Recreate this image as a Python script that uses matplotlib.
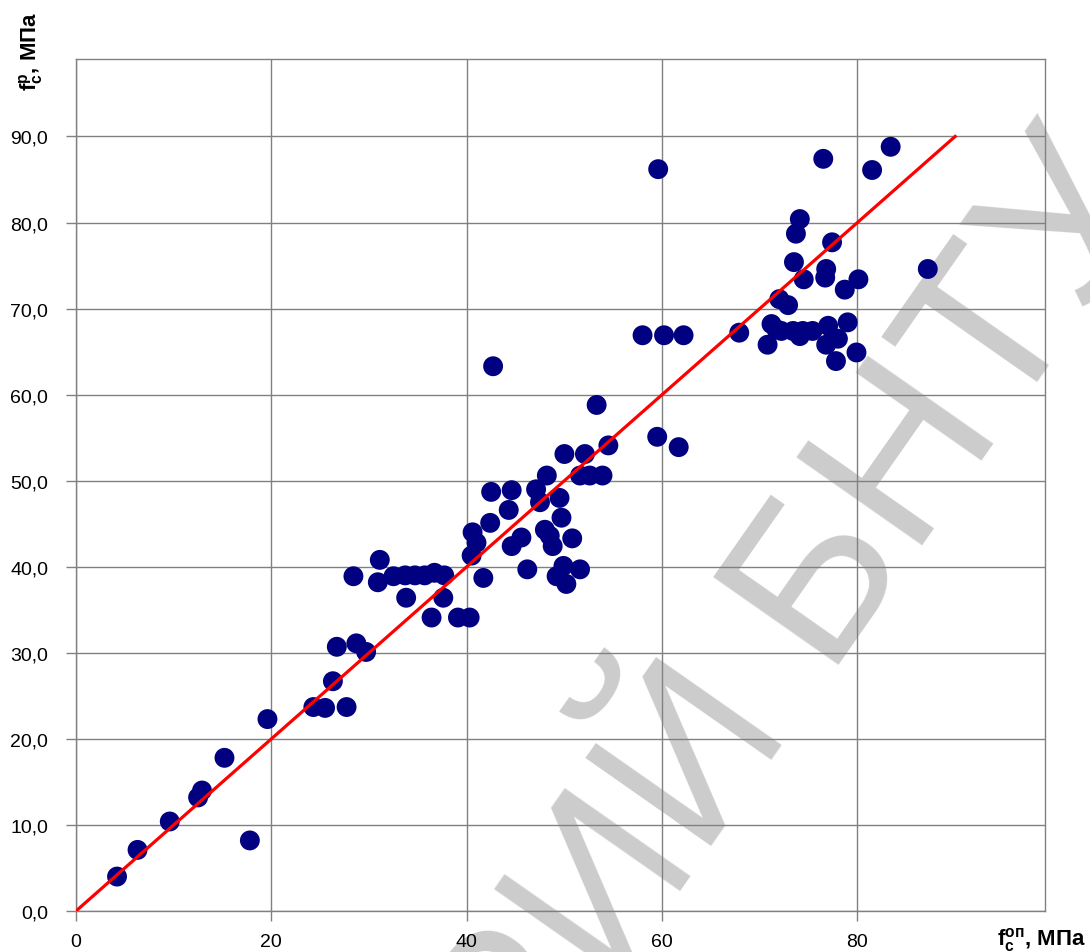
import matplotlib
matplotlib.use("Agg")
import matplotlib.pyplot as plt

plt.rcParams['font.family'] = ['Liberation Sans', 'DejaVu Sans']
plt.rcParams['mathtext.fontset'] = 'custom'
plt.rcParams['mathtext.rm'] = 'Liberation Sans'
plt.rcParams['mathtext.bf'] = 'Liberation Sans:bold'
plt.rcParams['mathtext.it'] = 'Liberation Sans:italic'

# experimental strength (x) vs calculated strength (y), MPa
fc_exp = [4.2, 6.3, 9.6, 12.5, 12.9, 15.2, 17.8, 19.6, 24.3, 25.5,
          27.7, 26.3, 26.7, 28.7, 29.7, 28.4, 31.1, 30.9, 32.5, 33.7,
          34.7, 35.7, 36.7, 37.7, 33.8, 37.6, 36.4, 39.1, 40.3, 41.7,
          40.5, 40.6, 41.0, 42.5, 42.4, 42.7, 44.6, 44.3, 44.6, 45.6,
          46.2, 47.1, 47.5, 48.2, 49.5, 48.0, 49.7, 48.8, 50.8, 49.2,
          50.2, 49.9, 51.6, 50.0, 52.1, 51.6, 52.6, 53.9, 53.3, 54.5,
          59.5, 61.7, 58.0, 60.2, 62.2, 59.6, 67.9, 71.2, 71.7, 70.8,
          72.0, 72.9, 72.2, 73.4, 74.4, 75.4, 77.0, 74.1, 76.8, 78.0,
          79.0, 77.8, 79.9, 73.5, 74.5, 76.8, 76.7, 78.7, 80.1, 74.1,
          73.7, 77.4, 76.5, 81.5, 83.4, 87.2, 48.5]
fc_calc = [4.0, 7.1, 10.4, 13.2, 14.0, 17.8, 8.2, 22.3, 23.7, 23.6,
           23.7, 26.7, 30.7, 31.1, 30.1, 38.9, 40.8, 38.2, 38.9, 39.0,
           39.0, 39.0, 39.3, 39.0, 36.4, 36.4, 34.1, 34.1, 34.1, 38.7,
           41.3, 44.0, 42.8, 48.7, 45.1, 63.3, 48.9, 46.6, 42.4, 43.4,
           39.7, 49.0, 47.5, 50.6, 48.0, 44.3, 45.7, 42.4, 43.3, 38.9,
           38.0, 40.1, 39.7, 53.1, 53.1, 50.6, 50.6, 50.6, 58.8, 54.1,
           55.1, 53.9, 66.9, 66.9, 66.9, 86.2, 67.2, 68.2, 67.6, 65.8,
           71.1, 70.4, 67.4, 67.4, 67.4, 67.4, 68.0, 66.8, 65.8, 66.5,
           68.4, 63.9, 64.9, 75.4, 73.4, 74.6, 73.6, 72.2, 73.4, 80.4,
           78.7, 77.7, 87.4, 86.1, 88.8, 74.6, 43.6]

line_x = [0, 90]
line_y = [0, 90]

x_ticks = [0, 20, 40, 60, 80]
y_ticks = [0, 10, 20, 30, 40, 50, 60, 70, 80, 90]
y_ticklabels = ['0,0', '10,0', '20,0', '30,0', '40,0', '50,0', '60,0', '70,0', '80,0', '90,0']

fig = plt.figure(figsize=(10.9, 9.53), dpi=100)
ax = fig.add_axes([76/1090, 1 - 912/953, (1045 - 76)/1090, (912 - 60)/953])
ax.set_facecolor('none')

# watermark of the source document, drawn under the chart
fig.text(0.410, -0.180, 'РЕПОЗИТОРИЙ БНТУ', fontsize=160, color='#cccccc',
         rotation=55, ha='center', va='center', rotation_mode='anchor', zorder=-1)

ax.scatter(fc_exp, fc_calc, s=205, color='#000080', edgecolors='none', zorder=3)
ax.plot(line_x, line_y, color='#ff0000', lw=2.3, zorder=4)

ax.set_xlim(0, 99.2)
ax.set_ylim(0, 99)
ax.set_xticks(x_ticks)
ax.set_yticks(y_ticks)
ax.set_yticklabels(y_ticklabels)
ax.grid(True, color='#808080', lw=1.0)
ax.set_axisbelow(True)
for s in ax.spines.values():
    s.set_color('#808080')
    s.set_linewidth(1.0)
ax.tick_params(axis='x', length=7, width=1, color='#808080', labelsize=14, pad=9)
ax.tick_params(axis='y', length=7, width=1, color='#808080', labelsize=14, pad=13)

fig.text(1086/1090, 1 - 945/953, r'$\mathbf{f}_\mathbf{c}^\mathbf{оп}$, МПа',
         fontsize=16, fontweight='bold', ha='right', va='baseline')
fig.text(37/1090, 1 - 12/953, r'$\mathbf{f}_\mathbf{c}^\mathbf{р}$, МПа',
         fontsize=16, fontweight='bold', ha='right', va='baseline',
         rotation=90, rotation_mode='anchor')

fig.savefig('out.png', dpi=100)
